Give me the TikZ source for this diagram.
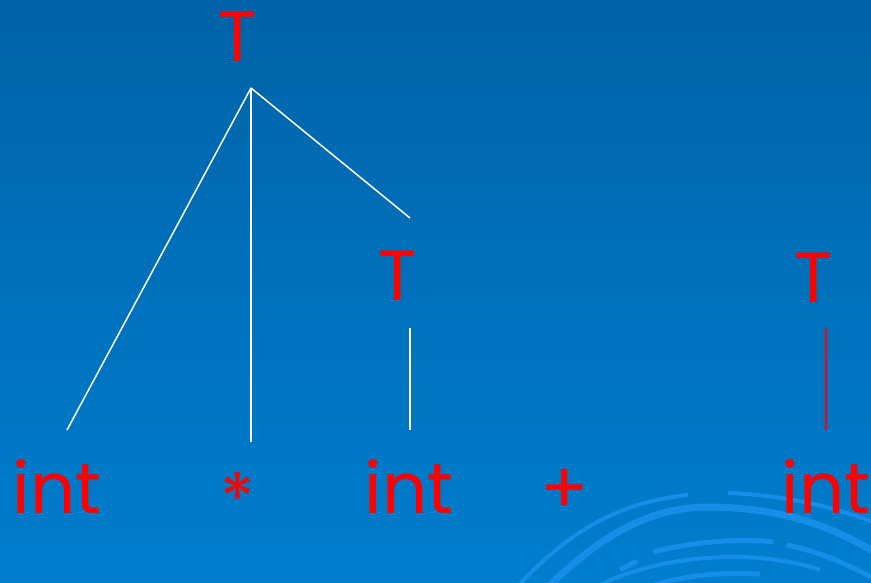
\documentclass[tikz,border=0pt]{standalone}
\usepackage{fontspec}
\setmainfont{Poppins}
\definecolor{bgtop}{RGB}{0,99,168}
\definecolor{bgbot}{RGB}{0,126,206}
\definecolor{deco}{RGB}{22,142,232}
\tikzset{
  lbl/.style={text=red, font=\fontsize{71}{71}\selectfont, anchor=base, inner sep=0pt},
  edge/.style={draw=white, line width=1.5pt},
  redge/.style={draw=red, line width=2pt},
  arcdeco/.style={draw=deco}
}
\begin{document}
\begin{tikzpicture}[x=1pt,y=-1pt]
\shade[top color=bgtop, bottom color=bgbot] (0,0) rectangle (871,582);
\useasboundingbox (0,0) rectangle (871,582);
\begin{scope}
\clip (0,0) rectangle (871,582);
% decorative arcs
\draw[arcdeco, line width=4pt] (518,586) .. controls (570,530) and (620,502) .. (688,495);
\draw[arcdeco, line width=4pt] (728,493) .. controls (780,495) and (830,505) .. (878,524);
\draw[arcdeco, line width=7pt] (545,590) .. controls (600,535) and (650,508) .. (705,507) .. controls (780,507) and (830,525) .. (880,555);
\draw[arcdeco, line width=5pt] (653,552) .. controls (690,542) and (740,538) .. (773,542);
\draw[arcdeco, line width=5pt] (787,545) .. controls (820,552) and (850,565) .. (880,582);
\draw[arcdeco, line width=5pt] (620,570) -- (637,561);
\draw[arcdeco, line width=4pt] (600,585) .. controls (640,565) and (690,557) .. (733,557) .. controls (770,557) and (800,563) .. (820,570);
\draw[arcdeco, line width=5pt] (640,590) .. controls (680,575) and (720,572) .. (760,574);
\end{scope}
% nodes
\node[lbl] (T1) at (238,61) {T};
\node[lbl] (T2) at (398,300) {T};
\node[lbl] (T3) at (814,302) {T};
\node[lbl] (int1) at (57,513) {int};
\node[lbl] (star) at (238,524) {*};
\node[lbl] (int2) at (409,513) {int};
\node[lbl] (plus) at (565,513) {+};
\node[lbl] (int3) at (826,513) {int};
% connector ends
\coordinate (top) at (251,88);
\coordinate (e1) at (67,430);
\coordinate (e2) at (251,442);
\coordinate (e3) at (410,218);
\coordinate (s2) at (410,328);
\coordinate (e4) at (410,430);
\coordinate (s3) at (826,328);
\coordinate (e5) at (826,430);
\draw[edge] (top) -- (e1);
\draw[edge] (top) -- (e2);
\draw[edge] (top) -- (e3);
\draw[edge] (s2) -- (e4);
\draw[redge] (s3) -- (e5);
\end{tikzpicture}
\end{document}
